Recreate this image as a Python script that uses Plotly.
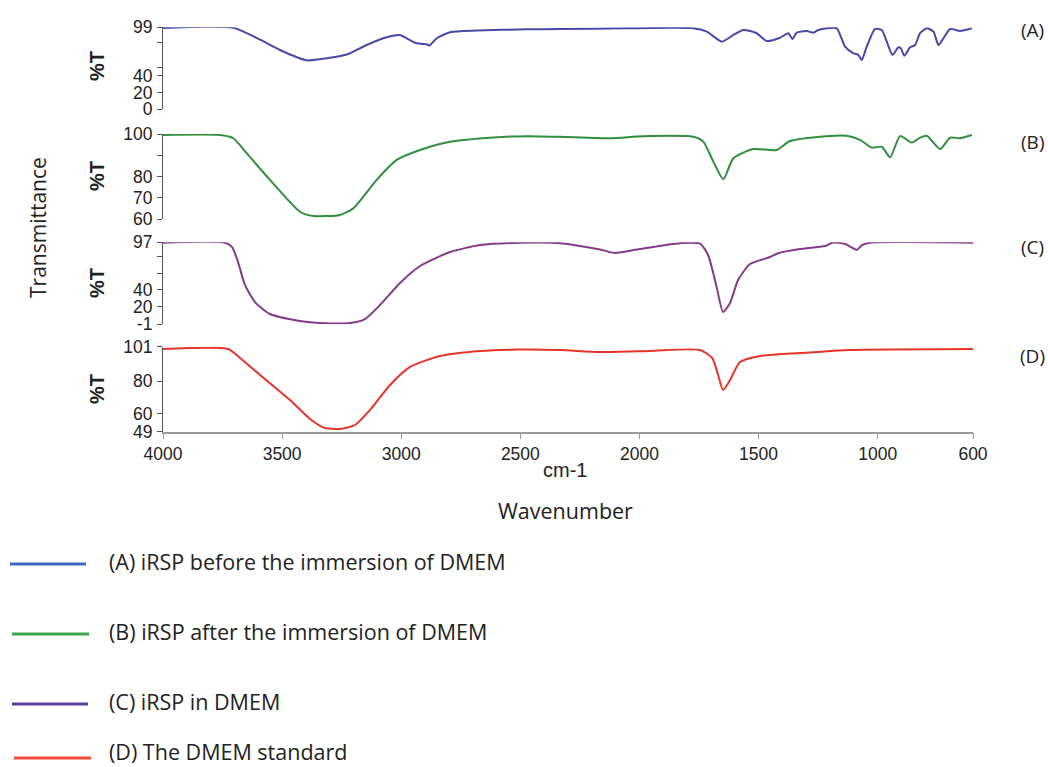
import plotly.graph_objects as go

# ---------------- data ----------------
wn_A = [4000, 3705, 3593, 3509, 3397, 3285, 3229, 3145, 3061, 3005, 2977, 2935, 2893, 2882, 2851,
        2795, 2683, 2473, 2333, 2053, 1774, 1717, 1654, 1606, 1564, 1508, 1466, 1410, 1375, 1358,
        1340, 1298, 1270, 1249, 1214, 1172, 1137, 1102, 1081, 1067, 1046, 1011, 983, 962, 938,
        913, 903, 888, 864, 843, 822, 794, 766, 745, 724, 696, 654, 605]
t_A = [98.3, 98.3, 84, 71.5, 59, 62.7, 66, 77.6, 86.9, 89.7, 85.7, 79.6, 78.4, 76.8, 85.7,
       93, 95, 96.6, 96.8, 97.8, 97.8, 93.7, 81.6, 89.7, 95.8, 91.8, 82.4, 86.4, 91.8, 84.8,
       92.5, 94.5, 92.5, 95.8, 97.8, 97.8, 75.5, 67.5, 65.5, 59.4, 75.5, 97, 95.8, 81.6, 65.5,
       74.8, 73.6, 64.6, 74.8, 77.6, 91.8, 97.8, 93.7, 77.6, 85.7, 97, 94.5, 97.8]

wn_B = [4000, 3761, 3705, 3649, 3551, 3425, 3369, 3257, 3201, 3103, 3019, 2921, 2795, 2613, 2473,
        2333, 2123, 1984, 1774, 1732, 1690, 1648, 1606, 1522, 1424, 1368, 1214, 1130, 1074, 1025,
        983, 948, 906, 857, 822, 794, 738, 696, 654, 605]
t_B = [99.5, 99.5, 98, 91, 78.4, 63.4, 61.4, 61.9, 65, 78.4, 87.8, 92.5, 96.4, 98.4, 99,
       98.7, 98, 99, 98.7, 96.4, 87, 78.7, 88.6, 92.9, 92.5, 96.7, 99, 99.2, 97.2, 93.6,
       94, 89, 99, 96, 98.3, 99.2, 92.9, 98.3, 98, 99.5]

wn_C = [4000, 3740, 3710, 3685, 3656, 3614, 3551, 3425, 3341, 3215, 3152, 3089, 3005, 2921, 2795,
        2669, 2501, 2333, 2166, 2103, 1998, 1830, 1746, 1712, 1678, 1649, 1620, 1586, 1536, 1452,
        1418, 1326, 1221, 1188, 1137, 1087, 1066, 1032, 600]
t_C = [96.5, 96.5, 91.3, 73.4, 46, 25.6, 11.3, 3, 0.6, 0.6, 5.3, 22, 48.4, 68.7, 85.4,
       93.7, 96.5, 96, 88.4, 84.2, 89, 96, 95.5, 81.8, 46, 13.7, 24.4, 52, 71, 79.4,
       84, 89, 92.5, 96.8, 95, 88, 93.7, 96.5, 96.5]

wn_D = [4000, 3727, 3677, 3593, 3467, 3383, 3320, 3257, 3194, 3131, 3047, 2963, 2837, 2669, 2501,
        2333, 2166, 1956, 1746, 1695, 1670, 1649, 1620, 1578, 1494, 1326, 1116, 600]
t_D = [99.6, 99.6, 94.1, 83.7, 68.4, 56.8, 51.3, 50.7, 53.1, 62.3, 77.6, 88.6, 95.3, 98.4, 99.3,
       99, 97.7, 98.4, 99, 94.1, 83.7, 74.5, 80.6, 91.6, 95.3, 97.1, 99, 99.6]

x_ticks = [4000, 3500, 3000, 2500, 2000, 1500, 1000, 600]

yA_ticks, yA_text = [0, 20, 40, 50, 80, 99], ["0", "20", "40", "", "", "99"]
yB_ticks, yB_text = [60, 70, 80, 90, 100], ["60", "70", "80", "", "100"]
yC_ticks, yC_text = [-1, 20, 40, 60, 80, 97], ["-1", "20", "40", "", "", "97"]
yD_ticks, yD_text = [49, 60, 80, 101], ["49", "60", "80", "101"]

panel_labels = ["(A)", "(B)", "(C)", "(D)"]
legend_names = ["(A) iRSP before the immersion of DMEM",
                "(B) iRSP after the immersion of DMEM",
                "(C) iRSP in DMEM",
                "(D) The DMEM standard"]

# ---------------- styling ----------------
curve_colors = ["#4848a8", "#2f8f3c", "#86398a", "#e5342b"]
legend_colors = ["#3c68bd", "#3fa64b", "#5a3e98", "#f04d3b"]
H = 767
W = 1048


def pf(py):
    return 1 - py / H


def px(x):
    return x / W


domains = [(pf(109), pf(27.3)), (pf(219), pf(134)), (pf(324.3), pf(242.3)), (pf(431.7), pf(346.7))]
ranges = [[0, 99], [60, 100], [-1, 97], [49, 101]]
ticks = [(yA_ticks, yA_text), (yB_ticks, yB_text), (yC_ticks, yC_text), (yD_ticks, yD_text)]

xs = [wn_A, wn_B, wn_C, wn_D]
ys = [t_A, t_B, t_C, t_D]

fig = go.Figure()
for i in range(4):
    sfx = "" if i == 0 else str(i + 1)
    fig.add_trace(go.Scatter(x=xs[i], y=ys[i], mode="lines", name=legend_names[i],
                             line=dict(color=curve_colors[i], width=2, shape="spline", smoothing=0.6),
                             xaxis="x" + sfx, yaxis="y" + sfx, showlegend=False))

tick_font = dict(family="Liberation Sans, Arial, sans-serif", size=17.5, color="#222")
layout = dict(
    template="none",
    width=W, height=H,
    margin=dict(l=0, r=0, t=0, b=0, pad=0, autoexpand=False),
    paper_bgcolor="white", plot_bgcolor="white",
    showlegend=False,
)
for i in range(4):
    sfx = "" if i == 0 else str(i + 1)
    last = (i == 3)
    layout["xaxis" + sfx] = dict(
        domain=[px(163), px(973)], range=[4000, 600], anchor="y" + sfx,
        showgrid=False, zeroline=False, automargin=False,
        showline=last, linecolor="#9a9a9a", linewidth=1.5,
        ticks="outside" if last else "", ticklen=6, tickcolor="#9a9a9a",
        tickvals=x_ticks if last else [], showticklabels=last,
        tickfont=tick_font,
        matches=None if i == 0 else "x",
    )
    tv, tt = ticks[i]
    layout["yaxis" + sfx] = dict(
        domain=list(domains[i]), range=ranges[i], anchor="x" + sfx,
        showgrid=False, zeroline=False, automargin=False,
        showline=True, linecolor="#555", linewidth=1.2,
        ticks="outside", ticklen=5, tickcolor="#555",
        tickvals=tv, ticktext=tt, tickfont=tick_font, ticklabelstandoff=1,
    )
fig.update_layout(**layout)

anns = []


def ann(text, x, y, size, family, angle=0, xanchor="center"):
    anns.append(dict(text=text, x=px(x), y=pf(y), xref="paper", yref="paper",
                     xanchor=xanchor, yanchor="middle", textangle=angle, showarrow=False,
                     font=dict(family=family, size=size, color="#222")))


ARIAL = "Liberation Sans, Arial, sans-serif"
SANS = "Open Sans, sans-serif"
pt_centers = [66, 176, 283, 389]
for i in range(4):
    ann("<b>%T</b>", 97, pt_centers[i], 20, ARIAL, angle=-90)
label_y = [30, 142, 247, 356]
for i in range(4):
    ann(panel_labels[i], 1032, label_y[i], 19, SANS)
ann("Transmittance", 38, 228, 21, SANS, angle=-90)
ann("cm-1", 565, 470, 20, ARIAL)
ann("Wavenumber", 565, 510, 21.5, SANS)

leg_y = [564, 634, 704, 758]
leg_text_y = [561, 631, 701, 751]
leg_x0 = [10, 12, 12, 14]
leg_x1 = [86, 89, 88, 91]
shapes = []
for i in range(4):
    shapes.append(dict(type="line", xref="paper", yref="paper",
                       x0=px(leg_x0[i]), x1=px(leg_x1[i]), y0=pf(leg_y[i]), y1=pf(leg_y[i]),
                       line=dict(color=legend_colors[i], width=3)))
    ann(legend_names[i], 107, leg_text_y[i], 21.5, SANS, xanchor="left")
fig.update_layout(annotations=anns, shapes=shapes)

fig.write_html("out.html", config={"displayModeBar": False},
               post_script="document.body.style.margin='0px';document.body.style.overflow='hidden';")
